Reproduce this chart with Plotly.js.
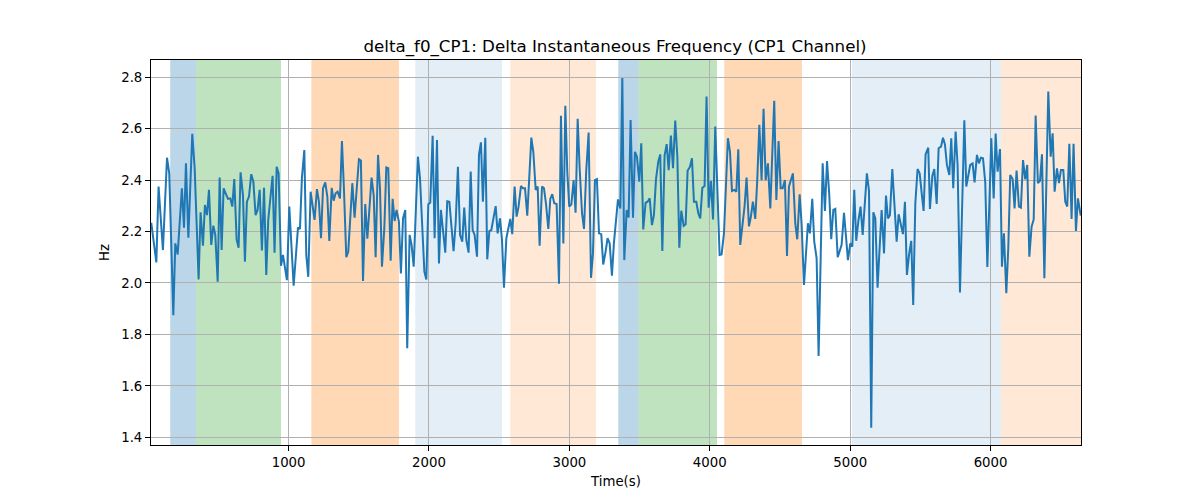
<!DOCTYPE html>
<html>
<head>
<meta charset="utf-8">
<script src="https://cdn.plot.ly/plotly-3.0.1.min.js"></script>
<style>
  body { margin: 0; background: #fff; }
  #myDiv { width: 1200px; height: 500px; }
</style>
</head>
<body>
<div id="myDiv"></div>
<script>
// line data in six chunks (time in s, value in Hz)
var timeA = [22,58,74,105,134,150,179,193,210,240,255,269,286,314,331,359,373,390,404,419,433,449,464,478,495,509,523,537,568,585,599,613,630,644,658,675,689,703,718,734,749,765,779,794,810,825,841,855,886,900,915,929,946,960,988,1005,1036,1067,1081,1095,1112];
var hzA = [2.234,2.08,2.375,2.128,2.487,2.426,1.875,2.154,2.111,2.368,2.215,2.465,2.176,2.58,2.446,2.014,2.275,2.145,2.303,2.264,2.362,2.148,2.223,2.187,2.005,2.41,2.128,2.368,2.327,2.329,2.297,2.404,2.169,2.137,2.43,2.342,2.083,2.316,2.336,2.423,2.394,2.264,2.284,2.362,2.126,2.37,2.031,2.245,2.417,2.118,2.452,2.426,2.067,2.109,2.011,2.297,1.989,2.216,2.21,2.41,2.517];

var timeB = [1126,1140,1157,1185,1202,1216,1231,1245,1261,1276,1290,1307,1321,1335,1349,1366,1380,1394,1411,1425,1454,1470,1485,1501,1515,1530,1546,1561,1591,1606,1620,1637,1651,1665,1682,1696,1710,1727,1741,1755,1769,1786,1800,1815,1831,1845,1862,1876,1891,1921,1936,1967,1981,1995,2009,2026,2040,2057,2071,2085,2116,2130,2145,2175,2190,2206,2221];
var hzB = [2.109,2.024,2.355,2.245,2.365,2.316,2.174,2.368,2.391,2.336,2.163,2.37,2.32,2.349,2.355,2.329,2.552,2.368,2.1,2.122,2.388,2.254,2.355,2.481,2.476,2.008,2.307,2.172,2.41,2.342,2.1,2.498,2.368,2.063,2.215,2.449,2.446,2.087,2.327,2.241,2.284,2.238,2.037,2.251,2.284,1.746,2.187,2.148,2.063,2.491,2.407,2.044,2.014,2.306,2.312,2.572,2.174,2.556,2.076,2.284,2.118,2.318,2.316,2.124,2.232,2.452,2.187];

var timeC = [2237,2251,2266,2282,2297,2311,2325,2342,2356,2370,2384,2401,2415,2430,2444,2475,2489,2506,2520,2534,2551,2579,2593,2610,2624,2638,2655,2669,2684,2700,2714,2729,2743,2760,2774,2788,2805,2819,2833,2850,2864,2878,2892,2909,2926,2940,2957,2971,2985,2999,3014,3030,3044,3059,3073,3090,3104,3120,3137,3154,3168,3182,3196,3211,3227,3241,3258,3272,3287,3303,3317];
var hzC = [2.161,2.293,2.167,2.118,2.433,2.206,2.187,2.102,2.498,2.547,2.316,2.565,2.092,2.202,2.206,2.299,2.193,2.251,2.167,1.982,2.174,2.249,2.19,2.375,2.258,2.297,2.377,2.368,2.368,2.262,2.426,2.565,2.51,2.362,2.375,2.145,2.375,2.368,2.31,2.21,2.327,2.345,2.31,2.307,1.997,2.65,2.154,2.689,2.433,2.297,2.306,2.4,2.273,2.638,2.446,2.271,2.21,2.436,2.585,2.02,2.115,2.4,2.404,2.193,2.19,2.072,2.122,2.174,2.154,2.028,2.154];

var timeD = [3346,3363,3377,3391,3408,3422,3436,3453,3467,3481,3498,3512,3526,3543,3557,3572,3588,3602,3617,3633,3647,3662,3678,3693,3707,3723,3738,3754,3769,3783,3797,3814,3828,3842,3859,3873,3887,3904,3918,3932,3947,3963,3977,3992,4008,4023,4039,4070,4084,4101,4129,4144,4158,4175,4189,4203,4217,4248,4262,4279,4293,4307,4324,4338,4353,4369,4383,4398,4414,4431];
var hzD = [2.325,2.29,2.797,2.089,2.284,2.255,2.634,2.254,2.51,2.491,2.394,2.543,2.208,2.312,2.316,2.329,2.225,2.264,2.404,2.472,2.5,2.124,2.495,2.54,2.439,2.573,2.446,2.632,2.491,2.137,2.281,2.222,2.228,2.436,2.452,2.485,2.316,2.316,2.271,2.251,2.37,2.377,2.725,2.293,2.397,2.247,2.608,2.109,2.111,2.193,2.563,2.51,2.358,2.362,2.355,2.52,2.148,2.3,2.41,2.22,2.258,2.316,2.249,2.4,2.615,2.4,2.677,2.4,2.465,2.29];

var timeE = [4459,4474,4490,4505,4519,4535,4550,4564,4592,4609,4623,4640,4654,4671,4685,4699,4713,4730,4744,4761,4775,4804,4820,4835,4851,4865,4880,4894,4911,4925,4939,4956,4970,4984,5001,5015,5029,5043,5058,5074,5089,5105,5119,5134,5150,5165,5179,5195,5210,5224,5241,5255,5269,5283,5300,5314,5331,5345,5359,5376,5390,5404,5419,5435,5449,5464,5480,5495,5509,5523];
var hzE = [2.708,2.323,2.552,2.368,2.368,2.4,2.105,2.375,2.426,2.232,2.17,2.345,2.229,1.992,2.12,2.232,2.193,2.327,2.161,2.096,1.716,2.465,2.28,2.474,2.342,2.17,2.284,2.288,2.1,2.122,2.148,2.273,2.187,2.089,2.154,2.141,2.362,2.164,2.24,2.297,2.187,2.33,2.426,2.358,1.437,2.275,2.251,1.982,2.154,2.284,2.115,2.34,2.251,2.264,2.443,2.323,2.161,2.267,2.23,2.19,2.316,2.031,2.109,2.164,1.914,2.31,2.443,2.426,2.35,2.28];

var timeF = [5537,5556,5568,5585,5599,5616,5630,5647,5661,5675,5689,5706,5720,5734,5751,5765,5782,5796,5813,5827,5841,5855,5872,5886,5903,5917,5931,5946,5962,5977,5991,6005,6022,6036,6050,6067,6081,6095,6112,6126,6140,6157,6171,6185,6202,6216,6231,6247,6261,6276,6292,6307,6321,6337,6352,6366,6383,6397,6411,6428,6442,6456,6473,6487,6501,6518,6532,6546,6561,6577,6591,6608,6622,6642];
var hzF = [2.5,2.526,2.288,2.416,2.443,2.307,2.524,2.53,2.565,2.539,2.459,2.42,2.563,2.368,2.589,2.459,1.963,2.251,2.633,2.375,2.423,2.459,2.465,2.391,2.498,2.465,2.487,2.485,2.391,2.062,2.303,2.563,2.329,2.581,2.433,2.521,2.063,2.193,1.96,2.135,2.42,2.404,2.29,2.437,2.297,2.293,2.478,2.403,2.459,2.102,2.219,2.247,2.651,2.388,2.397,2.5,2.018,2.368,2.744,2.491,2.582,2.355,2.446,2.388,2.439,2.439,2.316,2.297,2.541,2.249,2.541,2.202,2.329,2.262];

// shaded intervals
var spanStart = [157, 340, 1162, 1902, 2579, 3348, 3493, 4103, 5013, 6076];
var spanEnd = [340, 946, 1786, 2520, 3190, 3493, 4051, 4657, 6076, 6644];
var spanColor = [
  'rgba(31,119,180,0.3)', 'rgba(44,160,44,0.3)', 'rgba(255,127,14,0.3)',
  'rgba(31,119,180,0.12)', 'rgba(255,127,14,0.17)',
  'rgba(31,119,180,0.3)', 'rgba(44,160,44,0.3)', 'rgba(255,127,14,0.3)',
  'rgba(31,119,180,0.12)', 'rgba(255,127,14,0.17)'
];

var xTicks = [1000, 2000, 3000, 4000, 5000, 6000];
var yTicks = [1.4, 1.6, 1.8, 2.0, 2.2, 2.4, 2.6, 2.8];

var times = timeA.concat(timeB, timeC, timeD, timeE, timeF);
var values = hzA.concat(hzB, hzC, hzD, hzE, hzF);

var trace = {
  x: times,
  y: values,
  type: 'scatter',
  mode: 'lines',
  line: {color: '#1f77b4', width: 2},
  hoverinfo: 'skip'
};

var shapes = spanStart.map(function (s, i) {
  return {
    type: 'rect', xref: 'x', yref: 'paper',
    x0: s, x1: spanEnd[i], y0: 0, y1: 1,
    fillcolor: spanColor[i], line: {width: 0}, layer: 'below'
  };
});

var font = {family: 'DejaVu Sans, sans-serif', size: 13.3, color: '#000'};

var layout = {
  width: 1200,
  height: 500,
  margin: {l: 151, r: 119, t: 60, b: 55},
  paper_bgcolor: '#fff',
  plot_bgcolor: '#fff',
  font: font,
  showlegend: false,
  title: {
    text: 'delta_f0_CP1: Delta Instantaneous Frequency (CP1 Channel)',
    font: {family: 'DejaVu Sans, sans-serif', size: 16.7, color: '#000'},
    x: 0.5125, xref: 'container', xanchor: 'center',
    y: 0.908, yref: 'container', yanchor: 'middle'
  },
  xaxis: {
    range: [20, 6644],
    tickvals: xTicks,
    ticks: 'outside', ticklen: 5, tickwidth: 1, tickcolor: '#000',
    showline: true, mirror: true, linecolor: '#000', linewidth: 1,
    showgrid: true, gridcolor: '#b0b0b0', gridwidth: 1,
    zeroline: false,
    tickfont: font,
    title: {text: 'Time(s)', font: font, standoff: 7}
  },
  yaxis: {
    range: [1.37, 2.867],
    tickvals: yTicks,
    tickformat: '.1f',
    ticks: 'outside', ticklen: 5, tickwidth: 1, tickcolor: '#000',
    showline: true, mirror: true, linecolor: '#000', linewidth: 1,
    showgrid: true, gridcolor: '#b0b0b0', gridwidth: 1,
    zeroline: false,
    tickfont: font,
    title: {text: 'Hz', font: font, standoff: 8}
  },
  shapes: shapes
};

Plotly.newPlot('myDiv', [trace], layout, {displayModeBar: false, staticPlot: true});
</script>
</body>
</html>
